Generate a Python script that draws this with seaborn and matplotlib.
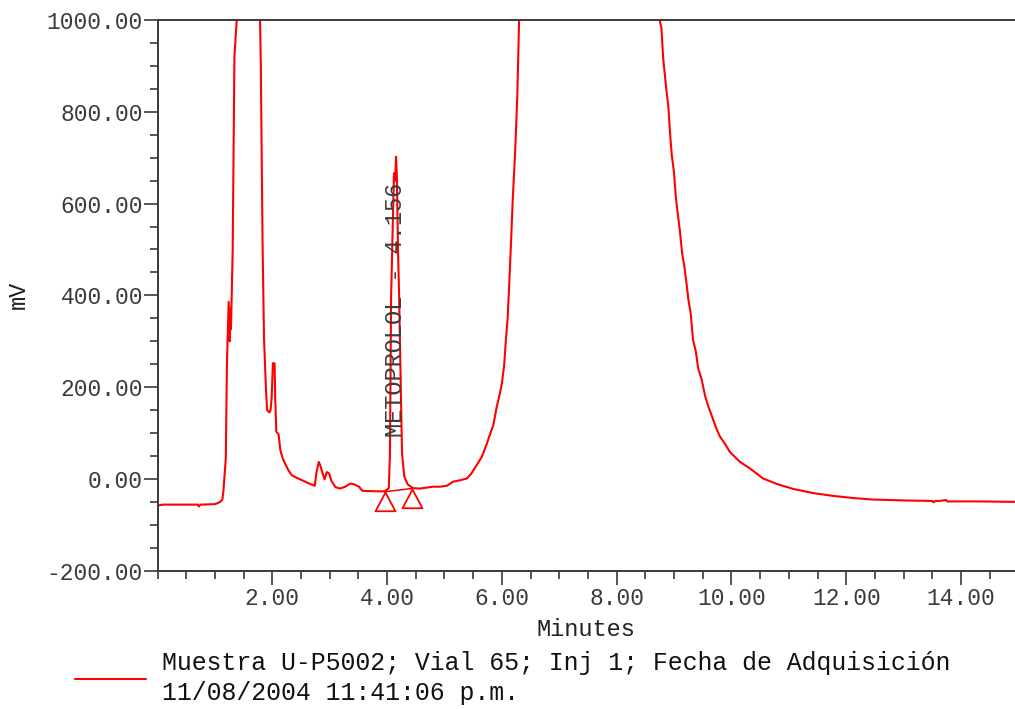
import numpy as np
import pandas as pd
import matplotlib
matplotlib.use("Agg")
import matplotlib.pyplot as plt
from matplotlib.path import Path
from matplotlib.ticker import MultipleLocator, FixedLocator, FuncFormatter
import seaborn as sns

# ---------------- data ----------------
minutes = [
    0.00, 0.10, 0.40, 0.70, 0.72, 0.75, 1.00, 1.06, 1.09, 1.13,
    1.15, 1.19, 1.21, 1.24, 1.26, 1.27, 1.28, 1.31, 1.34, 1.38,
    1.45, 1.58, 1.70, 1.786, 1.80, 1.83, 1.855, 1.89, 1.91, 1.95,
    1.97, 1.99, 2.01, 2.04, 2.05, 2.07, 2.11, 2.14, 2.18, 2.22,
    2.28, 2.34, 2.43, 2.54, 2.66, 2.74, 2.77, 2.81, 2.84, 2.87,
    2.91, 2.95, 2.99, 3.03, 3.10, 3.18, 3.27, 3.36, 3.43, 3.51,
    3.57, 3.80, 3.96, 4.03, 4.05, 4.07, 4.10, 4.12, 4.14, 4.156,
    4.17, 4.19, 4.21, 4.24, 4.26, 4.30, 4.36, 4.45, 4.57, 4.80,
    4.92, 5.04, 5.15, 5.27, 5.39, 5.47, 5.56, 5.65, 5.73, 5.79,
    5.85, 5.91, 5.96, 6.00, 6.04, 6.07, 6.10, 6.13, 6.16, 6.19,
    6.23, 6.27, 6.30, 6.40, 7.00, 7.60, 8.20, 8.60, 8.75, 8.78,
    8.81, 8.86, 8.90, 8.93, 8.96, 9.00, 9.03, 9.06, 9.10, 9.14,
    9.18, 9.22, 9.25, 9.29, 9.33, 9.38, 9.42, 9.48, 9.54, 9.60,
    9.65, 9.73, 9.80, 9.89, 9.97, 10.06, 10.15, 10.32, 10.55, 10.79,
    11.08, 11.43, 11.77, 12.15, 12.47, 13.05, 13.50, 13.52, 13.55, 13.63,
    13.74, 13.76, 14.30, 14.94,
]
millivolts = [
    -58, -56, -56, -56, -60, -56, -55, -52, -50, -45,
    -24, 45, 252, 386, 300, 371, 326, 499, 920, 1000,
    1500, 2200, 1500, 1000, 902, 520, 310, 194, 150, 145,
    150, 179, 252, 252, 179, 103, 97, 63, 45, 34,
    19, 8, 2, -4, -11, -15, 14, 37, 28, 15,
    -1, 15, 12, -4, -18, -21, -17, -10, -12, -17,
    -26, -27, -27, -20, 56, 397, 560, 666, 650, 702,
    660, 500, 397, 200, 56, 5, -12, -20, -21, -17,
    -17, -15, -6, -3, 1, 12, 30, 48, 74, 96,
    117, 157, 183, 208, 248, 303, 350, 430, 517, 611,
    710, 839, 1000, 1300, 3500, 4500, 3000, 1300, 1000, 982,
    917, 855, 811, 753, 706, 666, 615, 582, 542, 492,
    462, 423, 390, 361, 303, 277, 241, 217, 181, 157,
    140, 112, 92, 76, 59, 48, 37, 23, 1, -11,
    -22, -31, -37, -42, -45, -47, -48, -51, -48, -48,
    -46, -49, -49, -50,
]
assert len(minutes) == len(millivolts)

# integration baseline points of the METOPROLOL peak
baseline_minutes = [3.96, 4.43]
baseline_mv = [-28, -21]

peak_label = "METOPROLOL - 4.156"
peak_label_pos = (4.14, 368)

x_ticks = [2, 4, 6, 8, 10, 12, 14]
y_ticks = [-200, 0, 200, 400, 600, 800, 1000]
x_label = "Minutes"
y_label = "mV"
legend_label = ("Muestra U-P5002; Vial 65; Inj 1; Fecha de Adquisición\n"
                "11/08/2004 11:41:06 p.m.")

# ---------------- styling ----------------
sns.set_theme(style="ticks")
plt.rcParams["font.family"] = ["Liberation Mono", "DejaVu Sans Mono"]
RED = "#ff0000"
AX = "#3a3a3a"
TXT = "#3a3a3a"

fig = plt.figure(figsize=(10.15, 7.09), dpi=100)
W, H = 1015, 709
ax = fig.add_axes([157.5 / W, 138.3 / H, (W - 157.5) / W, (570.7 - 20) / H])

df = pd.DataFrame({"Minutes": minutes, "mV": millivolts})
sns.lineplot(data=df, x="Minutes", y="mV", ax=ax, color=RED, linewidth=1.5,
             estimator=None, sort=False, label=legend_label, legend=False)

# baseline with triangle markers (apex at the baseline point)
tri = Path([(0, 0), (-0.53, -1), (0.53, -1), (0, 0)],
           [Path.MOVETO, Path.LINETO, Path.LINETO, Path.CLOSEPOLY])
ax.plot(baseline_minutes, baseline_mv, color=RED, linewidth=1.1,
        marker=tri, markersize=27, markerfacecolor="none",
        markeredgecolor=RED, markeredgewidth=1.3)

ax.text(peak_label_pos[0], peak_label_pos[1], peak_label, rotation=90,
        ha="center", va="center", fontsize=17, color="#3c3c3c")

ax.set_xlim(0, 14.94)
ax.set_ylim(-200, 1000)
ax.xaxis.set_major_locator(FixedLocator(x_ticks))
ax.xaxis.set_minor_locator(MultipleLocator(0.5))
ax.yaxis.set_major_locator(FixedLocator(y_ticks))
ax.yaxis.set_minor_locator(MultipleLocator(50))
fmt = FuncFormatter(lambda v, p: "%.2f" % v)
ax.xaxis.set_major_formatter(fmt)
ax.yaxis.set_major_formatter(fmt)

ax.tick_params(which="major", direction="out", length=10, width=1.2,
               color=AX, labelsize=16.5, labelcolor=TXT)
ax.tick_params(which="minor", direction="out", length=5.8, width=1.2, color=AX)
ax.tick_params(axis="x", which="major", pad=1.5)
ax.tick_params(axis="y", which="major", pad=0.5)

for s in ["left", "bottom", "top"]:
    ax.spines[s].set_color(AX)
    ax.spines[s].set_linewidth(1.4)
ax.spines["right"].set_visible(False)

ax.set_xlabel(x_label, fontsize=17, color="#222222")
ax.set_ylabel(y_label, fontsize=17, color="#222222")
ax.xaxis.label.set_va("center")
ax.xaxis.set_label_coords(0.5, -(629 - 570.7) / (570.7 - 20))
ax.yaxis.label.set_va("center")
ax.yaxis.set_label_coords(-(157.5 - 18) / (W - 157.5), 0.5)
ax.set_facecolor("white")

line = ax.get_lines()[0]
leg = fig.legend([line], [legend_label], loc="upper left",
                 bbox_to_anchor=(75 / W, 1 - 651 / H), frameon=False,
                 handlelength=2.85, handletextpad=0.66, borderpad=0,
                 borderaxespad=0, prop={"family": "Liberation Mono", "size": 17.9},
                 labelcolor="#111111")
for t in leg.get_texts():
    t.set_linespacing(1.3)

fig.savefig("out.png", dpi=100, facecolor="white")
